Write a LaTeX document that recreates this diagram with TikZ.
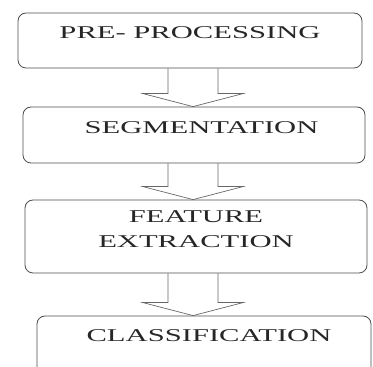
\documentclass[tikz,border=0pt]{standalone}
\usepackage{fontspec}
\usepackage{tikz}
\usetikzlibrary{positioning,calc}
\newfontfamily\flowfont[FakeStretch=1.7]{Liberation Serif}

% open block arrow from one box down to the next
\newcommand{\flowarrow}[2]{%
\draw[flow] ($(#1.south -| ax)+(-25,0)$) -- ($(#2.north -| ax)+(-25,13)$)
 -- ++(-25,0) -- (#2.north -| ax) -- ($(#2.north -| ax)+(50,13)$)
 -- ++(-25,0) -- ($(#1.south -| ax)+(25,0)$);}

\begin{document}
\begin{tikzpicture}[
x=1pt,y=1pt,
stage/.style={
draw=black!70,
line width=0.8pt,
rounded corners=8pt,
align=center,
inner sep=0pt,
minimum width=342pt,
text height=12pt,
text=black!85,
font={\flowfont\fontsize{18}{25}\selectfont}
},
flow/.style={draw=black!60,line width=0.7pt,line join=miter}
]
\clip (0,0) rectangle (373,367);

\coordinate (ax) at (193,0);

\node[stage,minimum width=344pt,minimum height=55pt,text depth=15pt]
 (pre) at (190,326.5) {PRE- PROCESSING};

\node[stage,minimum height=56pt,text depth=14pt]
 (seg) at (194,232) {\hspace{15pt}SEGMENTATION};

\node[stage,minimum height=73pt,text height=37pt,text depth=14pt]
 (feat) at (196,130.5) {FEATURE\\ EXTRACTION};

\node[stage,minimum width=334pt,minimum height=64pt,text depth=24pt]
 (cls) at (204,19) {\hspace{10pt}CLASSIFICATION};

\flowarrow{pre}{seg}
\flowarrow{seg}{feat}
\flowarrow{feat}{cls}

\end{tikzpicture}
\end{document}
